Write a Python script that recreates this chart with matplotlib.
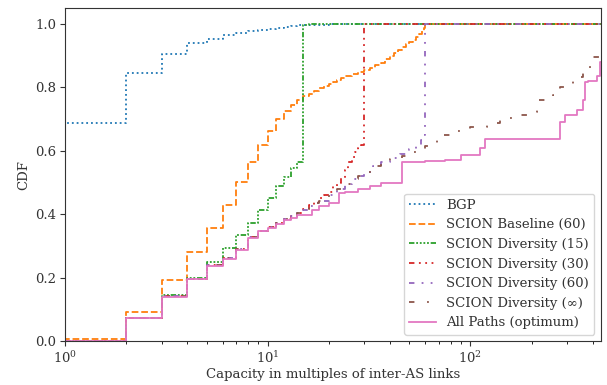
"""
CDF of path capacity (in multiples of inter-AS links) for BGP, SCION
baseline / diversity beaconing and the all-paths optimum.
"""

import matplotlib

matplotlib.use("Agg")
import matplotlib.pyplot as plt

X_MAX = 440

# step positions (capacity) and CDF value after each step
bgp_x = [1, 2, 3, 4, 5, 6, 7, 8, 9, 10, 11, 12, 13, 14, 15, 20]
bgp_y = [0.689, 0.845, 0.905, 0.939, 0.952, 0.965, 0.971, 0.977, 0.981,
         0.985, 0.988, 0.991, 0.994, 0.996, 0.998, 1.0]

base_x = [1, 2, 3, 4, 5, 6, 7, 8, 9, 10, 11, 12, 13, 14, 15, 16, 17, 18, 19,
          20, 21, 22, 23, 24, 26, 28, 30, 32, 34, 36, 38, 40, 42, 44, 46, 48,
          50, 52, 54, 56, 58, 59, 60]
base_y = [0.007, 0.093, 0.192, 0.281, 0.356, 0.430, 0.502, 0.564, 0.618,
          0.664, 0.700, 0.727, 0.745, 0.760, 0.773, 0.780, 0.790, 0.797,
          0.804, 0.812, 0.818, 0.824, 0.829, 0.836, 0.842, 0.848, 0.855,
          0.862, 0.870, 0.878, 0.888, 0.898, 0.908, 0.918, 0.928, 0.936,
          0.944, 0.951, 0.960, 0.968, 0.978, 0.988, 1.0]

div15_x = [1, 2, 3, 4, 5, 6, 7, 8, 9, 10, 11, 12, 13, 14, 15, 16]
div15_y = [0.002, 0.074, 0.145, 0.200, 0.249, 0.293, 0.335, 0.374, 0.414,
           0.451, 0.489, 0.519, 0.547, 0.566, 0.997, 1.0]

div30_x = [1, 2, 3, 4, 5, 6, 7, 8, 9, 10, 11, 12, 13, 14, 15, 16, 17, 18, 19,
           20, 21, 22, 23, 24, 25, 26, 27, 28, 29, 30]
div30_y = [0.002, 0.075, 0.143, 0.197, 0.240, 0.263, 0.292, 0.329, 0.348,
           0.360, 0.372, 0.385, 0.395, 0.405, 0.417, 0.430, 0.440, 0.450,
           0.460, 0.472, 0.488, 0.500, 0.515, 0.540, 0.566, 0.580, 0.598,
           0.608, 0.620, 1.0]

div60_x = [1, 2, 3, 4, 5, 6, 7, 8, 9, 10, 11, 12, 13, 14, 15, 16, 17, 18,
           20, 22, 24, 26, 28, 30, 33, 36, 40, 45, 50, 54, 57, 59, 60]
div60_y = [0.002, 0.075, 0.143, 0.197, 0.240, 0.263, 0.292, 0.329, 0.348,
           0.360, 0.372, 0.385, 0.395, 0.405, 0.415, 0.425, 0.435, 0.442,
           0.462, 0.480, 0.495, 0.510, 0.522, 0.535, 0.553, 0.565, 0.578,
           0.590, 0.605, 0.620, 0.635, 0.650, 1.0]

divinf_x = [1, 2, 3, 4, 5, 6, 7, 8, 9, 10, 11, 12, 13, 14, 15, 16, 17, 18,
            20, 22, 24, 26, 28, 30, 33, 36, 40, 46, 50, 54, 60, 63, 68, 72,
            82, 100, 120, 140, 170, 190, 212, 255, 276, 320, 358, 388, 434]
divinf_y = [0.002, 0.075, 0.143, 0.197, 0.240, 0.263, 0.292, 0.329, 0.348,
            0.360, 0.372, 0.385, 0.395, 0.405, 0.415, 0.425, 0.435, 0.442,
            0.462, 0.480, 0.495, 0.510, 0.522, 0.535, 0.553, 0.565, 0.575,
            0.585, 0.595, 0.605, 0.615, 0.624, 0.640, 0.650, 0.663, 0.674,
            0.687, 0.703, 0.713, 0.724, 0.760, 0.776, 0.802, 0.834, 0.860,
            0.897, 0.928]

opt_x = [1, 2, 3, 4, 5, 6, 7, 8, 9, 10, 11, 12, 13, 14, 16.5, 18, 20, 22.5,
         24, 28, 32, 36, 46, 60, 75, 90, 111, 118, 276, 292, 334, 358, 366,
         379, 419, 436]
opt_y = [0.002, 0.074, 0.141, 0.195, 0.237, 0.260, 0.288, 0.326, 0.346,
         0.358, 0.370, 0.382, 0.390, 0.398, 0.414, 0.426, 0.437, 0.466,
         0.472, 0.480, 0.490, 0.500, 0.566, 0.569, 0.572, 0.587, 0.608,
         0.637, 0.692, 0.713, 0.729, 0.760, 0.818, 0.821, 0.836, 0.880]

series = [
    ("BGP", bgp_x, bgp_y, ":"),
    ("SCION Baseline (60)", base_x, base_y, "--"),
    ("SCION Diversity (15)", div15_x, div15_y, (0, (3, 1, 1, 1, 1, 1, 1, 1, 1, 1))),
    ("SCION Diversity (30)", div30_x, div30_y, (0, (3, 2.5, 1, 2.5, 1, 2.5, 1, 2.5))),
    ("SCION Diversity (60)", div60_x, div60_y, (0, (3, 4, 1, 4, 1, 4))),
    ("SCION Diversity (\u221e)", divinf_x, divinf_y, (0, (3, 7, 1, 7))),
    ("All Paths (optimum)", opt_x, opt_y, "-"),
]

plt.rcParams["font.family"] = ["DejaVu Serif"]
plt.rcParams["font.size"] = 9.5

fig = plt.figure(figsize=(6.07, 3.85), dpi=100)
ax = fig.add_axes([0.107, 0.1135, 0.883, 0.8655])

for i, (label, xs, ys, ls) in enumerate(series):
    xs = [1] + list(xs) + [X_MAX]
    ys = [0.0] + list(ys) + [ys[-1]]
    ax.step(xs, ys, where="post", color=f"C{i}", linestyle=ls,
            linewidth=1.3, label=label)

ax.set_xscale("log")
ax.set_xlim(1, X_MAX)
ax.set_ylim(0, 1.05)
ax.set_xlabel("Capacity in multiples of inter-AS links", color="#333333",
              labelpad=2)
ax.set_ylabel("CDF", color="#333333")
ax.tick_params(colors="#333333", labelcolor="#333333", pad=2.5)
for sp in ax.spines.values():
    sp.set_color("#333333")

ax.legend(loc="lower right", labelcolor="#333333")

fig.savefig("out.png", dpi=100)
